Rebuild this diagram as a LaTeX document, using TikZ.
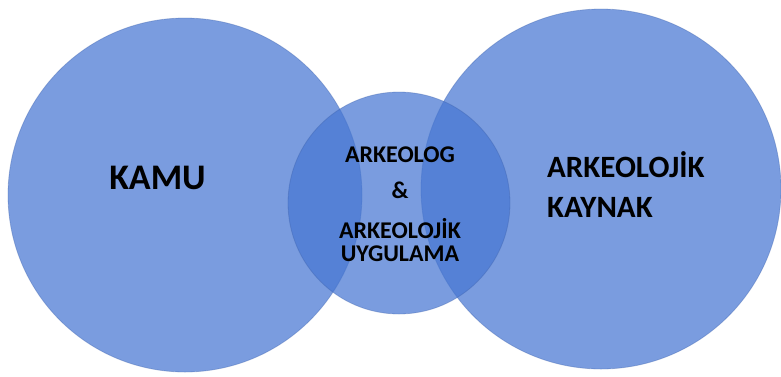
\documentclass[tikz,border=0pt]{standalone}
\usepackage{fontspec}
\setmainfont{Carlito}
\usetikzlibrary{positioning}
\definecolor{vennBlue}{RGB}{70,118,210}
\definecolor{vennEdge}{RGB}{60,95,170}
\begin{document}
\begin{tikzpicture}[
    x=1pt, y=-1pt,
    venn/.style={circle, inner sep=0pt, fill=vennBlue, fill opacity=0.72,
                 draw=vennEdge, draw opacity=0.35, line width=0.8pt},
    lbl/.style={inner sep=0pt, text=black, font=\bfseries},
  ]
    \useasboundingbox (0,0) rectangle (781,376);

    % Outer circles
    \node[venn, minimum size=354pt] (kamu) at (185,195) {};
    \node[venn, minimum size=360pt] (kaynak) at (601,189) {};

    % Middle circle
    \node[venn, minimum size=222pt] (arkeolog) at (399,203) {};

    % Labels
    \node[lbl, font=\bfseries\fontsize{36}{40}\selectfont, anchor=base]
         (kamuText) at (157.5,189) {KAMU};
    \node[lbl, font=\bfseries\fontsize{31}{40}\selectfont, anchor=base west, align=left]
         (kaynakText) at (547,217) {ARKEOLOJİK\\KAYNAK};
    \node[lbl, font=\bfseries\fontsize{24}{22.5}\selectfont, anchor=base, align=center]
         (arkeologText) at (400,261) {ARKEOLOG\\[13pt]\&\\[18pt]ARKEOLOJİK\\UYGULAMA};
  \end{tikzpicture}
\end{document}
